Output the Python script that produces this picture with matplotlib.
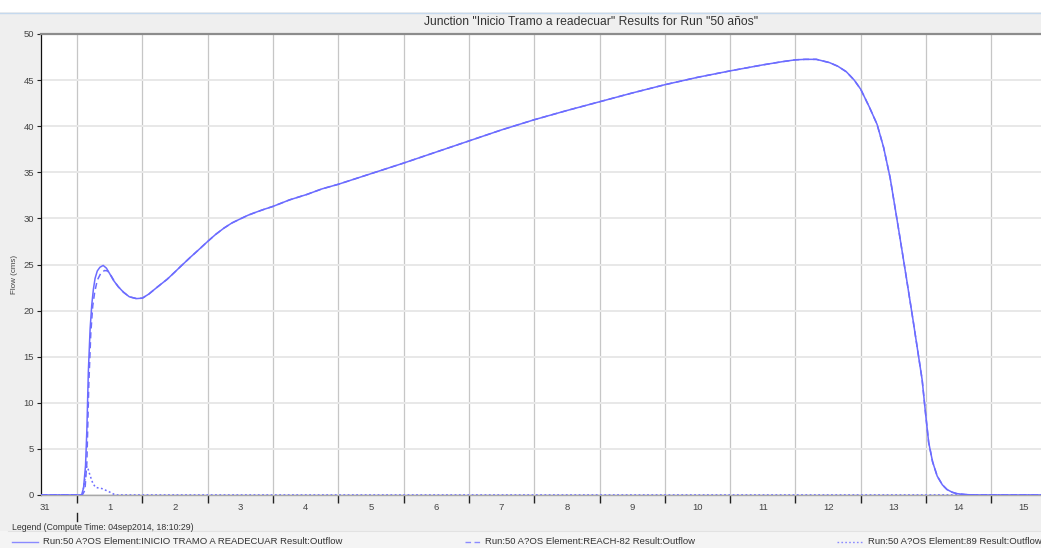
import matplotlib
matplotlib.use("Agg")
import matplotlib.pyplot as plt
from matplotlib.lines import Line2D
from matplotlib.patches import Rectangle

plt.rcParams['font.family'] = ['Liberation Sans', 'DejaVu Sans']

# Time axis: days counted from midnight of 1 September
time_inicio = [-0.55, 0.07, 0.10, 0.13, 0.15, 0.173, 0.20, 0.225, 0.25, 0.276, 0.31, 0.35,
               0.40, 0.45, 0.50, 0.556, 0.63, 0.71, 0.80, 0.91, 1.00, 1.10, 1.22, 1.38,
               1.50, 1.58, 1.73, 1.87, 2.00, 2.12, 2.25, 2.37, 2.50, 2.62, 2.75, 2.87,
               3.00, 3.25, 3.52, 3.75, 4.00, 4.50, 5.00, 5.50, 6.00, 6.50, 7.00, 7.50,
               8.00, 8.50, 9.00, 9.50, 10.00, 10.50, 10.80, 11.00, 11.15, 11.32, 11.52,
               11.65, 11.78, 11.90, 12.00, 12.13, 12.25, 12.35, 12.45, 12.58, 12.70,
               12.80, 12.94, 12.99, 13.04, 13.10, 13.17, 13.25, 13.32, 13.40, 13.47,
               13.60, 13.75, 14.76]
flow_inicio = [0, 0, 0.8, 3.2, 7.0, 13.4, 18.0, 20.6, 22.3, 23.5, 24.3, 24.7,
               24.9, 24.6, 24.0, 23.3, 22.6, 22.0, 21.5, 21.3, 21.35, 21.8, 22.5, 23.4,
               24.2, 24.75, 25.75, 26.65, 27.5, 28.25, 28.95, 29.5, 29.95, 30.35, 30.7, 31.0,
               31.3, 32.0, 32.6, 33.2, 33.7, 34.85, 36.0, 37.2, 38.4, 39.6, 40.7, 41.7,
               42.65, 43.6, 44.5, 45.3, 46.0, 46.65, 47.0, 47.2, 47.25, 47.25, 46.9,
               46.5, 45.9, 45.0, 44.0, 42.1, 40.2, 37.7, 34.4, 28.8, 23.5,
               19.0, 12.5, 9.0, 5.7, 3.6, 2.06, 1.1, 0.6, 0.3, 0.15,
               0.05, 0.0, 0.0]

# REACH-82 outflow: rising limb, then identical to the junction outflow
time_reach_rise = [-0.55, 0.08, 0.12, 0.15, 0.18, 0.21, 0.24, 0.27, 0.31, 0.36, 0.42, 0.47, 0.52, 0.57]
flow_reach_rise = [0, 0, 0.5, 3.5, 12.0, 17.5, 20.5, 22.0, 23.3, 24.0, 24.35, 24.3, 23.8, 23.2]

# Element 89 outflow
time_89 = [-0.55, 0.08, 0.11, 0.148, 0.17, 0.20, 0.24, 0.28, 0.33, 0.38, 0.46, 0.52, 0.56, 0.61, 14.76]
flow_89 = [0, 0, 1.2, 3.1, 2.8, 2.1, 1.3, 0.85, 0.75, 0.7, 0.45, 0.25, 0.1, 0, 0]

day_labels = ['31', '1', '2', '3', '4', '5', '6', '7', '8', '9', '10', '11', '12', '13', '14', '15']
y_ticks = [0, 5, 10, 15, 20, 25, 30, 35, 40, 45, 50]

title = 'Junction "Inicio Tramo a readecuar" Results for Run "50 años"'
legend_header = 'Legend (Compute Time: 04sep2014, 18:10:29)'
series_names = ['Run:50 A?OS Element:INICIO TRAMO A READECUAR Result:Outflow',
                'Run:50 A?OS Element:REACH-82 Result:Outflow',
                'Run:50 A?OS Element:89 Result:Outflow']

tail_start = next(i for i, t in enumerate(time_inicio) if t > time_reach_rise[-1])
time_reach = time_reach_rise + time_inicio[tail_start:]
flow_reach = flow_reach_rise + flow_inicio[tail_start:]

W, H = 1041, 548
fig = plt.figure(figsize=(W / 100, H / 100), dpi=100, facecolor='#efefef')

def fx(px):
    return px / W

def fy(py):
    return 1 - py / H

# white strip on top and title bar
fig.patches.append(Rectangle((0, fy(12)), 1, 12 / H, transform=fig.transFigure,
                             facecolor='white', edgecolor='none', zorder=0))
fig.lines.append(Line2D([0, 1], [fy(12.5), fy(12.5)], transform=fig.transFigure,
                        color='#c5d9ee', lw=1.0))
fig.text(fx(591), fy(22), title, ha='center', va='center', fontsize=8.7, color='#333333')

# legend panel
fig.patches.append(Rectangle((0, 0), 1, 17 / H, transform=fig.transFigure,
                             facecolor='#f4f4f4', edgecolor='none', zorder=0))
fig.lines.append(Line2D([fx(8), 1], [fy(531), fy(531)], transform=fig.transFigure,
                        color='#e2e2e2', lw=0.8))

line_color = '#6c6cff'

ax = fig.add_axes([fx(41), 53 / H, 1000 / W, 461 / H])
ax.set_facecolor('white')
ax.plot(time_inicio, flow_inicio, color=line_color, lw=1.1, solid_joinstyle='round', zorder=3)
ax.plot(time_reach, flow_reach, color=line_color, lw=1.1, dashes=(4, 2.5), zorder=3)
ax.plot(time_89, flow_89, color=line_color, lw=1.1, dashes=(1.2, 1.6), zorder=3)

ax.set_xlim(-0.552, 14.76)
ax.set_ylim(0, 50)

ax.set_xticks(range(0, 15))
ax.set_xticklabels([])
ax.set_xticks([d - 0.5 for d in range(0, 16)], minor=True)
ax.set_xticklabels(day_labels, minor=True)
ax.tick_params(axis='x', which='major', length=6, width=1, color='#222222', direction='out')
ax.tick_params(axis='x', which='minor', length=0, pad=6, labelsize=6.8, labelcolor='#444444')
ax.set_yticks(y_ticks)
ax.tick_params(axis='y', length=3, width=0.8, color='#222222', pad=2, labelsize=6.8,
               labelcolor='#444444')

ax.grid(axis='x', which='major', color='#c6c6c6', lw=0.9, zorder=0)
ax.grid(axis='y', which='major', color='#e8e8e8', lw=1.4, zorder=0)
ax.set_axisbelow(True)

ax.spines['left'].set_color('#111111')
ax.spines['left'].set_linewidth(0.9)
ax.spines['top'].set_color('#8c8c8c')
ax.spines['top'].set_linewidth(1.6)
ax.spines['bottom'].set_color('#a8a8a8')
ax.spines['bottom'].set_linewidth(1.0)
ax.spines['right'].set_visible(False)

# month boundary marker under the day labels
ax.plot([0, 0], [-18 / 461 * 50, -26 / 461 * 50], color='#222222', lw=1, clip_on=False,
        transform=ax.transData)

fig.text(fx(15), fy(274), 'Flow (cms)', rotation=90, ha='center', va='center',
         fontsize=5.8, color='#444444')

# legend
fig.text(fx(12), fy(528), legend_header, ha='left', va='center', fontsize=6.3, color='#333333')
legend_styles = [dict(), dict(dashes=(4, 2.5)), dict(dashes=(1.2, 1.6))]
legend_x = [(12, 38, 43), (465, 481, 485), (837, 863, 868)]
for (x0, x1, xt), style, name in zip(legend_x, legend_styles, series_names):
    fig.lines.append(Line2D([fx(x0), fx(x1)], [fy(541.5), fy(541.5)], transform=fig.transFigure,
                            color='#8a8aff', lw=1.0, **style))
    fig.text(fx(xt), fy(541.5), name, ha='left', va='center', fontsize=6.8, color='#333333')

fig.savefig('out.png', dpi=100, facecolor=fig.get_facecolor())
